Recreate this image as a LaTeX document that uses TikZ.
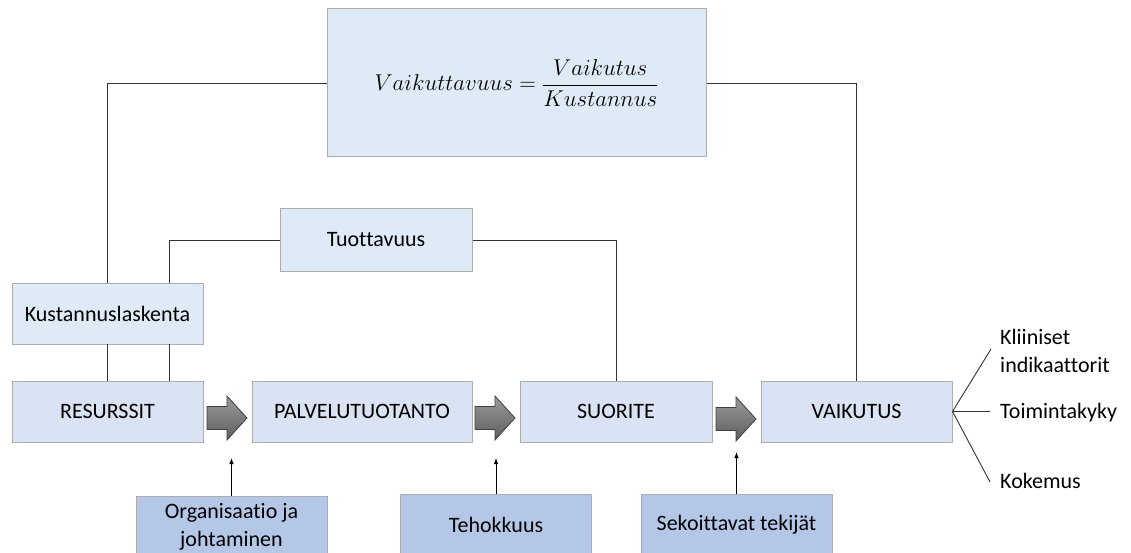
\documentclass[tikz,border=0pt]{standalone}
\usepackage{amsmath}
\usepackage{fontspec}
\setmainfont{Carlito}[Ligatures=NoCommon]
\usetikzlibrary{arrows.meta}
\definecolor{stagefill}{HTML}{DAE3F3}
\definecolor{calcfill}{HTML}{DEEBF7}
\definecolor{factorfill}{HTML}{B4C7E7}
\definecolor{boxline}{HTML}{ADADAD}
\definecolor{linkcol}{HTML}{333333}
\definecolor{arrowtop}{HTML}{9A9A9A}
\definecolor{arrowbot}{HTML}{5E5E5E}
\definecolor{arrowedge}{HTML}{404040}

\begin{document}
\begin{tikzpicture}[x=1pt,y=-1pt,
  txt/.style={font=\fontsize{22}{28}\selectfont},
  basebox/.style={txt, draw=boxline, line width=1pt, inner sep=0pt, align=center},
  stagebox/.style={basebox, fill=stagefill, minimum width=191pt, minimum height=61pt},
  calcbox/.style={basebox, fill=calcfill, minimum height=61pt},
  factorbox/.style={basebox, fill=factorfill, minimum width=191pt, minimum height=62pt},
  link/.style={draw=linkcol, line width=0.9pt},
  pointer/.style={draw=black, line width=0.9pt, -{Latex[length=6pt,width=4.5pt]}},
  sidetext/.style={txt, inner sep=0pt, align=left, anchor=west},
  flowarrow/.pic={
    \draw[draw=arrowedge, line width=0.8pt, top color=arrowtop, bottom color=arrowbot]
      (-20,-11.5) -- (0,-11.5) -- (0,-22) -- (20,0) -- (0,22) -- (0,11.5) -- (-20,11.5) -- cycle;
  }]
\useasboundingbox (0,0) rectangle (1131,553);

% efficiency ratio at the top
\node[calcbox, minimum width=379pt, minimum height=148pt, font=\fontsize{23}{28}\selectfont]
  (ratio) at (516.5,83) {\scalebox{0.92}{$Vaikuttavuus=\dfrac{Vaikutus}{Kustannus}$}};

% productivity and cost accounting
\node[calcbox, minimum width=192pt, minimum height=62pt] (tuot) at (376,240) {Tuottavuus};
\node[calcbox, minimum width=191pt] (kust) at (107.5,313.5) {Kustannuslaskenta};

% main chain
\node[stagebox] (res)  at (107.5,411.5) {RESURSSIT};
\node[stagebox, minimum width=220pt] (palv) at (362,411.5) {PALVELUTUOTANTO};
\node[stagebox, minimum width=192pt] (suor) at (616,411.5) {SUORITE};
\node[stagebox] (vaik) at (856.5,411.5) {VAIKUTUS};

\pic at (227,418) {flowarrow};
\pic at (495,418) {flowarrow};
\pic at (736,419) {flowarrow};

% influencing factors
\node[factorbox] (org) at (231.5,527) {Organisaatio ja\\johtaminen};
\node[factorbox] (teh) at (496,525) {Tehokkuus};
\node[factorbox] (sek) at (736.5,525) {Sekoittavat tekijät};

\coordinate (orgtip) at (231.5,458);
\coordinate (tehtip) at (496,458);
\coordinate (sektip) at (736.5,452);
\draw[pointer] (org.north) -- (orgtip);
\draw[pointer] (teh.north) -- (tehtip);
\draw[pointer] (sek.north) -- (sektip);

% outcome dimensions
\node[sidetext] (klin) at (1000,351) {Kliiniset\\indikaattorit};
\node[sidetext, anchor=base west] (toim) at (1000,418) {Toimintakyky};
\node[sidetext, anchor=base west] (koke) at (1000,488) {Kokemus};
\coordinate (f1) at (991,349);
\coordinate (f2) at (990,411.5);
\coordinate (f3) at (990,482);
\draw[link] (f1) -- (vaik.east) -- (f3);
\draw[link] (vaik.east) -- (f2);

% connectors
\coordinate (kustR) at (169,283);
\coordinate (kustBL) at (107.5,344);
\coordinate (kustBR) at (169,344);
\coordinate (resTL) at (107.5,381);
\coordinate (resTR) at (169,381);
\draw[link] (ratio.west) -| (kust.north);
\draw[link] (ratio.east) -| (vaik.north);
\draw[link] (tuot.west) -| (kustR);
\draw[link] (tuot.east) -| (suor.north);
\draw[link] (kustBL) -- (resTL);
\draw[link] (kustBR) -- (resTR);
\end{tikzpicture}
\end{document}
